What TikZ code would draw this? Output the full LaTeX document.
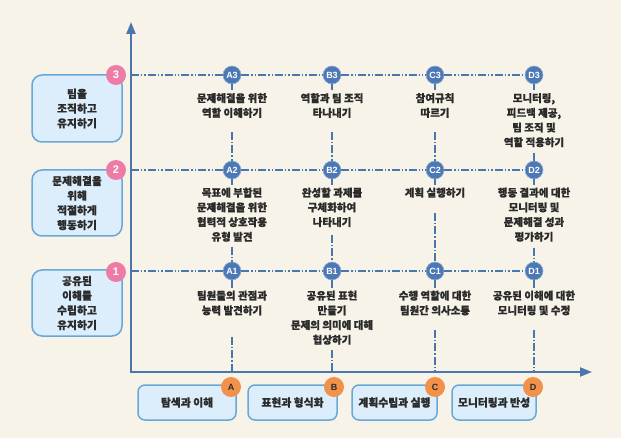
\documentclass[tikz,border=0pt]{standalone}
\usepackage{fontspec}
\setmainfont{Noto Sans CJK KR}[FakeBold=0.7]
\newfontfamily\labfont{Liberation Sans}
\usetikzlibrary{arrows.meta}
\definecolor{bg}{HTML}{F7F3E8}
\definecolor{axisblue}{HTML}{4A76AE}
\definecolor{nodeblue}{HTML}{4C79B6}
\definecolor{boxfill}{HTML}{DCEEFB}
\definecolor{boxline}{HTML}{68A8D8}
\definecolor{pinkc}{HTML}{EE7BA5}
\definecolor{orangec}{HTML}{F2914A}
\definecolor{txt}{HTML}{2B2B2B}
\begin{document}
\begin{tikzpicture}[x=1pt,y=-1pt,
  axisline/.style={draw=axisblue, line width=2.2pt},
  rowline/.style={draw=axisblue, line width=1.3pt, dash pattern=on 8pt off 2pt on 1.4pt off 2pt on 1.4pt off 2pt},
  colline/.style={draw=axisblue, line width=1.3pt, dash pattern=on 8pt off 2pt on 1.4pt off 2pt},
  stub/.style={draw=axisblue, line width=1.3pt},
  pt/.style={circle, fill=nodeblue, draw=nodeblue!60!white, line width=0.6pt, minimum size=18pt, inner sep=0pt, text=white, font=\labfont\fontsize{9}{9}\selectfont\bfseries},
  desc/.style={align=center, text=txt, font=\fontsize{10.5}{14.7}\selectfont\bfseries, inner sep=0pt, anchor=north},
  lbox/.style={rounded corners=10pt, draw=boxline, line width=1.5pt, fill=boxfill, minimum width=90pt, align=center, text=txt, font=\fontsize{10.8}{14.7}\selectfont\bfseries, inner sep=0pt},
  bbox/.style={rounded corners=7pt, draw=boxline, line width=1.5pt, fill=boxfill, minimum height=35pt, align=center, text=txt, font=\fontsize{10.8}{14.7}\selectfont\bfseries, inner sep=0pt},
  num/.style={circle, fill=pinkc, minimum size=20pt, inner sep=0pt, text=white, font=\labfont\fontsize{11}{11}\selectfont\bfseries},
  onum/.style={circle, fill=orangec, minimum size=20pt, inner sep=0pt, text=txt, font=\labfont\fontsize{9}{9}\selectfont\bfseries}
]
\fill[bg] (0,0) rectangle (621,438);
\useasboundingbox (0,0) rectangle (621,438);

% axes
\coordinate (origin) at (131,372);
\coordinate (ytop) at (131,22);
\coordinate (xend) at (592,372);
\draw[axisline, {Triangle[length=12pt,width=9pt]}-{Triangle[length=12pt,width=9pt]}] (ytop) -- (origin) -- (xend);

% left boxes
\node[lbox, minimum height=67pt] (L3) at (77,108.5) {팀을\\조직하고\\유지하기};
\node[lbox, minimum height=66pt] (L2) at (77,203) {문제해결을\\위해\\적절하게\\행동하기};
\node[lbox, minimum height=66pt] (L1) at (77,303) {공유된\\이해를\\수립하고\\유지하기};
\node[num] (n3) at (116,75) {3};
\node[num] (n2) at (116,170) {2};
\node[num] (n1) at (116,272) {1};

% bottom boxes
\node[bbox, minimum width=98pt] (BA) at (187,402.5) {탐색과 이해};
\node[bbox, minimum width=89pt] (BB) at (292.5,402.5) {표현과 형식화};
\node[bbox, minimum width=85pt] (BC) at (394.5,402.5) {계획수립과 실행};
\node[bbox, minimum width=84pt] (BD) at (494,402.5) {모니터링과 반성};
\node[onum] (oA) at (231,387) {A};
\node[onum] (oB) at (334,387) {B};
\node[onum] (oC) at (435,387) {C};
\node[onum] (oD) at (533,387) {D};

% grid nodes
\node[pt] (A3) at (232,75) {A3};
\node[pt] (B3) at (332,75) {B3};
\node[pt] (C3) at (435,75) {C3};
\node[pt] (D3) at (534,75) {D3};
\node[pt] (A2) at (232,170) {A2};
\node[pt] (B2) at (332,170) {B2};
\node[pt] (C2) at (435,170) {C2};
\node[pt] (D2) at (534,170) {D2};
\node[pt] (A1) at (232,271) {A1};
\node[pt] (B1) at (332,271) {B1};
\node[pt] (C1) at (435,271) {C1};
\node[pt] (D1) at (534,271) {D1};

% descriptions
\node[desc] (tA3) at (232,93) {문제해결을 위한\\역할 이해하기};
\node[desc] (tB3) at (332,93) {역할과 팀 조직\\타나내기};
\node[desc] (tC3) at (435,93) {참여규칙\\따르기};
\node[desc] (tD3) at (534,93) {모니터링,\\피드백 제공,\\팀 조직 및\\역할 적용하기};
\node[desc] (tA2) at (232,187.5) {목표에 부합된\\문제해결을 위한\\협력적 상호작용\\유형 발견};
\node[desc] (tB2) at (332,187.5) {완성할 과제를\\구체화하여\\나타내기};
\node[desc] (tC2) at (435,187.5) {계획 실행하기};
\node[desc] (tD2) at (534,187.5) {행동 결과에 대한\\모니터링 및\\문제해결 성과\\평가하기};
\node[desc] (tA1) at (232,290.5) {팀원들의 관점과\\능력 발견하기};
\node[desc] (tB1) at (332,290.5) {공유된 표현\\만들기\\문제의 의미에 대해\\협상하기};
\node[desc] (tC1) at (435,290.5) {수행 역할에 대한\\팀원간 의사소통};
\node[desc] (tD1) at (534,290.5) {공유된 이해에 대한\\모니터링 및 수정};

% row lines
\coordinate (r3) at (131,75);
\coordinate (r2) at (131,170);
\coordinate (r1) at (131,271);
\draw[rowline] (r3) -- (A3) (A3) -- (B3) (B3) -- (C3) (C3) -- (D3);
\draw[rowline] (r2) -- (A2) (A2) -- (B2) (B2) -- (C2) (C2) -- (D2);
\draw[rowline] (r1) -- (A1) (A1) -- (B1) (B1) -- (C1) (C1) -- (D1);

% stubs under circles
\foreach \c in {A,B,C,D}{
  \foreach \r in {3,2,1}{
    \draw[stub] (\c\r.south) -- ([yshift=2.5pt]t\c\r.north);
  }
}

% gap coordinates
\coordinate (gA3) at (232,132); \coordinate (gA2) at (232,247); \coordinate (gA1) at (232,337);
\coordinate (gB3) at (332,132); \coordinate (gB2) at (332,235); \coordinate (gB1) at (332,350);
\coordinate (gC3) at (435,132); \coordinate (gC2) at (435,213); \coordinate (gC1) at (435,330);
\coordinate (gD3) at (534,153); \coordinate (gD2) at (534,248); \coordinate (gD1) at (534,330);
\coordinate (xA) at (232,372); \coordinate (xB) at (332,372); \coordinate (xC) at (435,372); \coordinate (xD) at (534,372);

\foreach \c in {A,B,C,D}{
  \draw[colline] (g\c3) -- (\c2);
  \draw[colline] (g\c2) -- (\c1);
  \draw[colline] (g\c1) -- (x\c);
}
\end{tikzpicture}
\end{document}
